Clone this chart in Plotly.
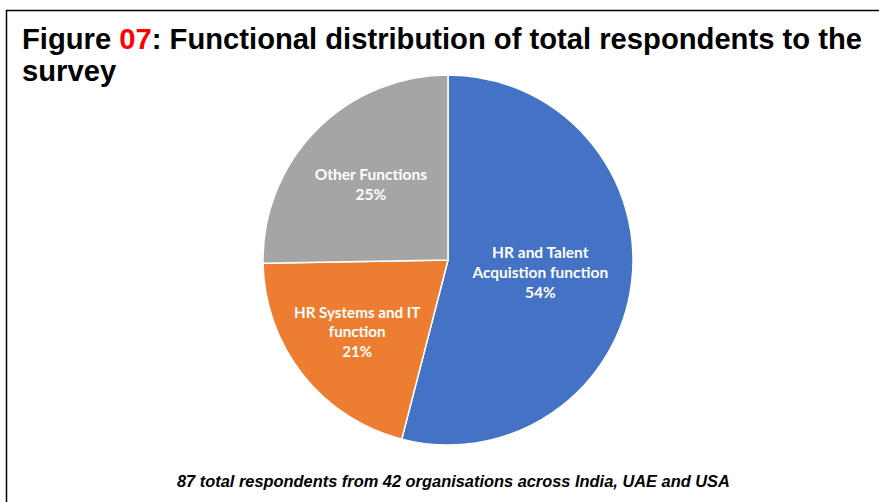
import plotly.graph_objects as go

# Respondents by function (87 respondents in total)
functions = ["HR and Talent Acquistion function", "HR Systems and IT function", "Other Functions"]
slice_text = ["HR and Talent<br>Acquistion function", "HR Systems and IT<br>function", "Other Functions"]
respondents = [47, 18, 22]
colors = ["#4472C4", "#ED7D31", "#A5A5A5"]

W, H = 879, 502

fig = go.Figure(
    go.Pie(
        labels=functions,
        values=respondents,
        text=slice_text,
        texttemplate="%{text}<br>%{percent:.0%}",
        textposition="inside",
        insidetextorientation="horizontal",
        textfont=dict(family="Lato, Open Sans, sans-serif", size=15.5, color="white", weight="bold"),
        marker=dict(colors=colors, line=dict(color="white", width=1.5)),
        sort=False,
        direction="clockwise",
        rotation=0,
        hoverinfo="label+value+percent",
        domain=dict(x=[263 / W, 633 / W], y=[(H - 445) / H, (H - 75) / H]),
        showlegend=False,
    )
)

title_font = dict(family="Liberation Sans, Arial, sans-serif", size=29.2, color="black", weight="bold")

fig.add_annotation(
    text="Figure <span style='color:#FF0000'>07</span>: Functional distribution of total respondents to the",
    xref="paper", yref="paper", x=19.5 / W, y=1 - 38.5 / H,
    xanchor="left", yanchor="middle", showarrow=False, font=title_font,
)
fig.add_annotation(
    text="survey",
    xref="paper", yref="paper", x=19.5 / W, y=1 - 70.5 / H,
    xanchor="left", yanchor="middle", showarrow=False, font=title_font,
)
fig.add_annotation(
    text="<i>87 total respondents from 42 organisations across India, UAE and USA</i>",
    xref="paper", yref="paper", x=454 / W, y=1 - 481 / H,
    xanchor="center", yanchor="middle", showarrow=False,
    font=dict(family="Liberation Sans, Arial, sans-serif", size=16.4, color="black", weight="bold"),
)

# Frame around the figure
fig.add_shape(
    type="rect", xref="paper", yref="paper",
    x0=6.5 / W, x1=1.05, y0=-0.05, y1=1 - 10.5 / H,
    line=dict(color="black", width=1.5), fillcolor="rgba(0,0,0,0)", layer="above",
)

fig.update_layout(
    width=W, height=H,
    margin=dict(l=0, r=0, t=0, b=0),
    paper_bgcolor="white",
    plot_bgcolor="white",
)

fig.write_html("out.html")
